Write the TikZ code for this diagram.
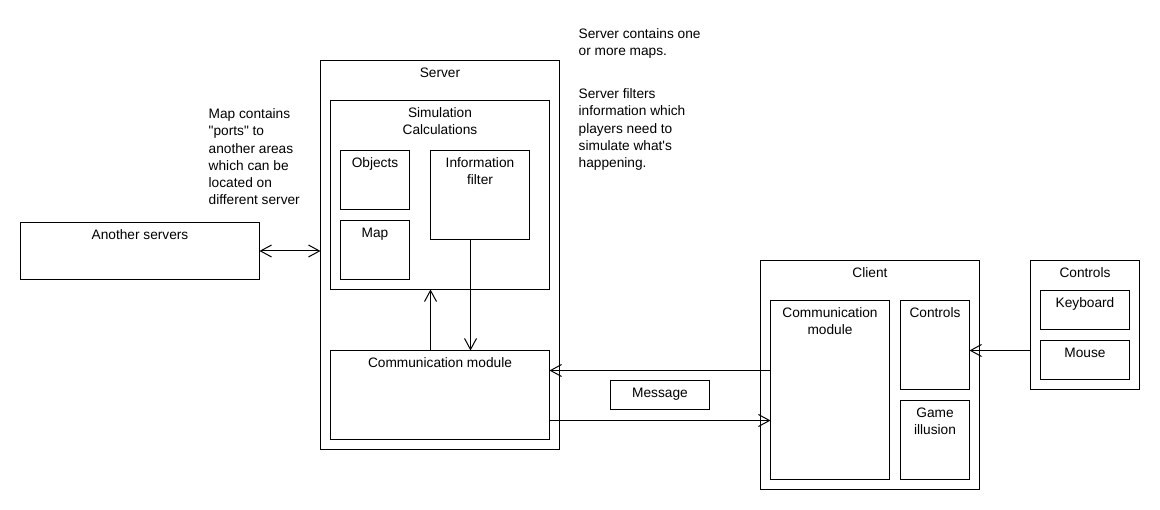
\documentclass[tikz,border=0pt]{standalone}
\usepackage{fontspec}
\setmainfont{Liberation Sans}
\newfontfamily\arialx{Liberation Sans}
\usetikzlibrary{arrows.meta}
\tikzset{
  box/.style={draw=black, line width=1pt, fill=white, anchor=north west, inner sep=0pt, outer sep=0pt},
  ttl/.style={anchor=base, align=center, inner sep=0pt, font=\arialx\fontsize{13.7}{17.3}\selectfont},
  note/.style={anchor=base west, align=left, inner sep=0pt, font=\arialx\fontsize{13.7}{17.3}\selectfont},
  arr/.style={draw=black, line width=1pt, -{Straight Barb[length=11pt,width=12pt,line width=1pt]}},
  darr/.style={draw=black, line width=1pt, {Straight Barb[length=11pt,width=12pt,line width=1pt]}-{Straight Barb[length=11pt,width=12pt,line width=1pt]}}
}
% name, x, y, w, h, label, number of lines
\newcommand{\mybox}[7]{%
  \node[box, minimum width=#4pt, minimum height=#5pt] (#1) at (#2,#3) {};
  \pgfmathsetmacro{\myshift}{-17-17.3*(#7-1)}
  \node[ttl] (#1-t) at ([yshift=\myshift pt]#1.north) {#6};
}
\begin{document}
\begin{tikzpicture}[x=1pt, y=-1pt]
\useasboundingbox (0,0) rectangle (1160,510);
% server side
\mybox{another}{20.5}{222.5}{239}{57}{Another servers}{1}
\mybox{server}{320.5}{60.5}{239}{389}{Server}{1}
\mybox{sim}{330.5}{100.5}{219}{189}{Simulation\\Calculations}{2}
\mybox{objects}{340.5}{150.5}{69}{59}{Objects}{1}
\mybox{map}{340.5}{220.5}{69}{59}{Map}{1}
\mybox{info}{430.5}{150.5}{99}{89}{Information\\filter}{2}
\mybox{scomm}{330.5}{350.5}{219}{89}{Communication module}{1}
\mybox{message}{610.5}{380.5}{99}{29}{Message}{1}
% client side
\mybox{client}{760.5}{260.5}{219}{229}{Client}{1}
\mybox{ccomm}{770.5}{300.5}{119}{179}{Communication\\module}{2}
\mybox{cctrl}{900.5}{300.5}{69}{89}{Controls}{1}
\mybox{game}{900.5}{400.5}{69}{79}{Game\\illusion}{2}
\mybox{controls}{1030.5}{260.5}{109}{129}{Controls}{1}
\mybox{keyboard}{1040.5}{290.5}{89}{39}{Keyboard}{1}
\mybox{mouse}{1040.5}{340.5}{89}{39}{Mouse}{1}
% notes (anchor at baseline of last line)
\node[note] (n1) at (578.5,55.8) {Server contains one\\or more maps.};
\node[note] (n2) at (578.5,167.7) {Server filters\\information which\\players need to\\simulate what's\\happening.};
\node[note] (n3) at (208.5,205) {Map contains\\"ports" to\\another areas\\which can be\\located on\\different server};
% connector helper coordinates
\coordinate (y370) at (0,370.5);
\coordinate (y420) at (0,420.5);
\coordinate (y350) at (0,350.5);
% connectors
\draw[darr] (another.east) -- (another.east -| server.west);
\draw[arr] ([xshift=-9.5pt]info.south) -- ([xshift=-9.5pt]info.south |- scomm.north);
\draw[arr] ([xshift=-9.5pt]scomm.north) -- ([xshift=-9.5pt]sim.south);
\draw[arr] (ccomm.west |- y370) -- (scomm.east |- y370);
\draw[arr] (scomm.east |- y420) -- (ccomm.west |- y420);
\draw[arr] (controls.west |- y350) -- (cctrl.east |- y350);
\end{tikzpicture}
\end{document}
